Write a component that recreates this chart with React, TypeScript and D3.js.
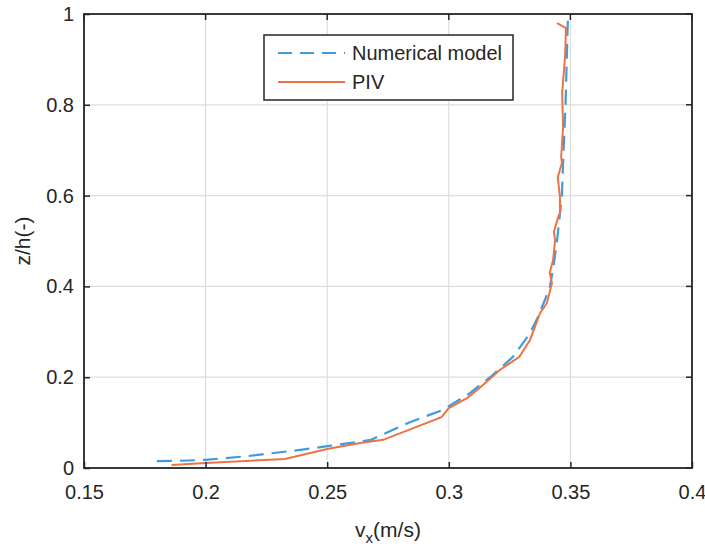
import * as d3 from "d3";
import { useRef, useEffect } from "react";

// numerical model profile: velocity (m/s) and relative depth z/h
const modelVx = [0.18, 0.19, 0.2, 0.217, 0.239, 0.25, 0.262, 0.268, 0.284, 0.2976, 0.3087, 0.317, 0.3264, 0.3334, 0.3367, 0.3395, 0.3416, 0.3432, 0.3445, 0.3455, 0.3465, 0.3472, 0.348, 0.3485, 0.349];
const modelZ = [0.015, 0.016, 0.018, 0.026, 0.04, 0.048, 0.057, 0.062, 0.101, 0.128, 0.165, 0.2, 0.245, 0.297, 0.333, 0.37, 0.4, 0.45, 0.5, 0.55, 0.6, 0.7, 0.8, 0.9, 0.995];

// PIV measurements
const pivVx = [0.186, 0.2, 0.2326, 0.25, 0.2635, 0.273, 0.297, 0.3, 0.3075, 0.313, 0.321, 0.329, 0.3334, 0.3375, 0.3403, 0.3424, 0.3415, 0.3429, 0.3437, 0.3432, 0.345, 0.3457, 0.3457, 0.3448, 0.3465, 0.3462, 0.347, 0.3466, 0.3478, 0.3482, 0.3462, 0.3445];
const pivZ = [0.0066, 0.011, 0.02, 0.042, 0.055, 0.062, 0.112, 0.132, 0.154, 0.178, 0.216, 0.245, 0.282, 0.341, 0.363, 0.407, 0.43, 0.458, 0.502, 0.52, 0.553, 0.562, 0.597, 0.64, 0.672, 0.685, 0.75, 0.826, 0.905, 0.969, 0.975, 0.98];

const xTicks = [0.15, 0.2, 0.25, 0.3, 0.35, 0.4];
const yTicks = [0, 0.2, 0.4, 0.6, 0.8, 1];

const seriesNames = ["Numerical model", "PIV"];

export default function App() {
    const svgRef = useRef(null);

    useEffect(() => {
        const svg = d3.select(svgRef.current);
        svg.selectAll("*").remove();

        const margin = { top: 14, right: 13, bottom: 79, left: 84 };
        const width = 705 - margin.left - margin.right;
        const height = 547 - margin.top - margin.bottom;

        const x = d3.scaleLinear().domain([0.15, 0.4]).range([0, width]);
        const y = d3.scaleLinear().domain([0, 1]).range([height, 0]);

        const axisColor = "#262626";
        const font = "'Liberation Sans', Arial, sans-serif";

        const g = svg.append("g").attr("transform", `translate(${margin.left},${margin.top})`);

        // grid lines
        g.append("g").selectAll("line").data(xTicks).join("line")
            .attr("x1", d => x(d)).attr("x2", d => x(d)).attr("y1", 0).attr("y2", height)
            .attr("stroke", "#dedede").attr("stroke-width", 1.2);
        g.append("g").selectAll("line").data(yTicks).join("line")
            .attr("x1", 0).attr("x2", width).attr("y1", d => y(d)).attr("y2", d => y(d))
            .attr("stroke", "#dedede").attr("stroke-width", 1.2);

        const line = d3.line().x(d => x(d[0])).y(d => y(d[1]));

        // numerical model, dashed blue
        g.append("path").datum(modelVx.map((v, i) => [v, modelZ[i]]))
            .attr("fill", "none").attr("stroke", "#3f9be0").attr("stroke-width", 2.2)
            .attr("stroke-dasharray", "15,8").attr("d", line);

        // PIV, solid orange
        g.append("path").datum(pivVx.map((v, i) => [v, pivZ[i]]))
            .attr("fill", "none").attr("stroke", "#ea7445").attr("stroke-width", 2)
            .attr("d", line);

        // axes with inward ticks
        const xAxis = g.append("g").attr("transform", `translate(0,${height})`)
            .call(d3.axisBottom(x).tickValues(xTicks).tickSize(-6).tickPadding(17).tickSizeOuter(0).tickFormat(d3.format("")));
        const yAxis = g.append("g")
            .call(d3.axisLeft(y).tickValues(yTicks).tickSize(-6).tickPadding(10).tickSizeOuter(0).tickFormat(d3.format("")));
        [xAxis, yAxis].forEach(a => {
            a.select(".domain").remove();
            a.selectAll("line").attr("stroke", axisColor).attr("stroke-width", 1.5);
            a.selectAll("text").attr("fill", axisColor).style("font-size", "20px").style("font-family", font);
        });
        // top / right ticks
        g.append("g").selectAll("line").data(xTicks).join("line")
            .attr("x1", d => x(d)).attr("x2", d => x(d)).attr("y1", 0).attr("y2", 6)
            .attr("stroke", axisColor).attr("stroke-width", 1.5);
        g.append("g").selectAll("line").data(yTicks).join("line")
            .attr("x1", width).attr("x2", width - 6).attr("y1", d => y(d)).attr("y2", d => y(d))
            .attr("stroke", axisColor).attr("stroke-width", 1.5);

        // box
        g.append("rect").attr("width", width).attr("height", height)
            .attr("fill", "none").attr("stroke", axisColor).attr("stroke-width", 1.8);

        // axis labels
        const xl = g.append("text").attr("x", width / 2).attr("y", height + 69).attr("text-anchor", "middle")
            .attr("fill", axisColor).style("font-size", "21px").style("font-family", font);
        xl.append("tspan").text("v");
        xl.append("tspan").attr("dy", 6).style("font-size", "15px").text("x");
        xl.append("tspan").attr("dy", -6).text("(m/s)");

        g.append("text").attr("transform", "rotate(-90)").attr("x", -height / 2).attr("y", -margin.left + 30)
            .attr("text-anchor", "middle").attr("fill", axisColor).style("font-size", "21px").style("font-family", font)
            .text("z/h(-)");

        // legend
        const lg = svg.append("g").attr("transform", "translate(264,35)");
        lg.append("rect").attr("width", 249).attr("height", 65).attr("fill", "white")
            .attr("stroke", axisColor).attr("stroke-width", 1.5);
        const colors = ["#3f9be0", "#ea7445"];
        const dashes = ["14,8", null];
        seriesNames.forEach((name, i) => {
            const yy = 18 + i * 29;
            lg.append("line").attr("x1", 14).attr("x2", 81).attr("y1", yy).attr("y2", yy)
                .attr("stroke", colors[i]).attr("stroke-width", 2).attr("stroke-dasharray", dashes[i]);
            lg.append("text").attr("x", 88).attr("y", yy + 7).attr("fill", axisColor)
                .style("font-size", "20px").style("font-family", font).text(name);
        });
    }, []);

    return (
        <svg ref={svgRef} width={705} height={547} style={{ position: "absolute", left: 0, top: 0, background: "white" }} />
    );
}
